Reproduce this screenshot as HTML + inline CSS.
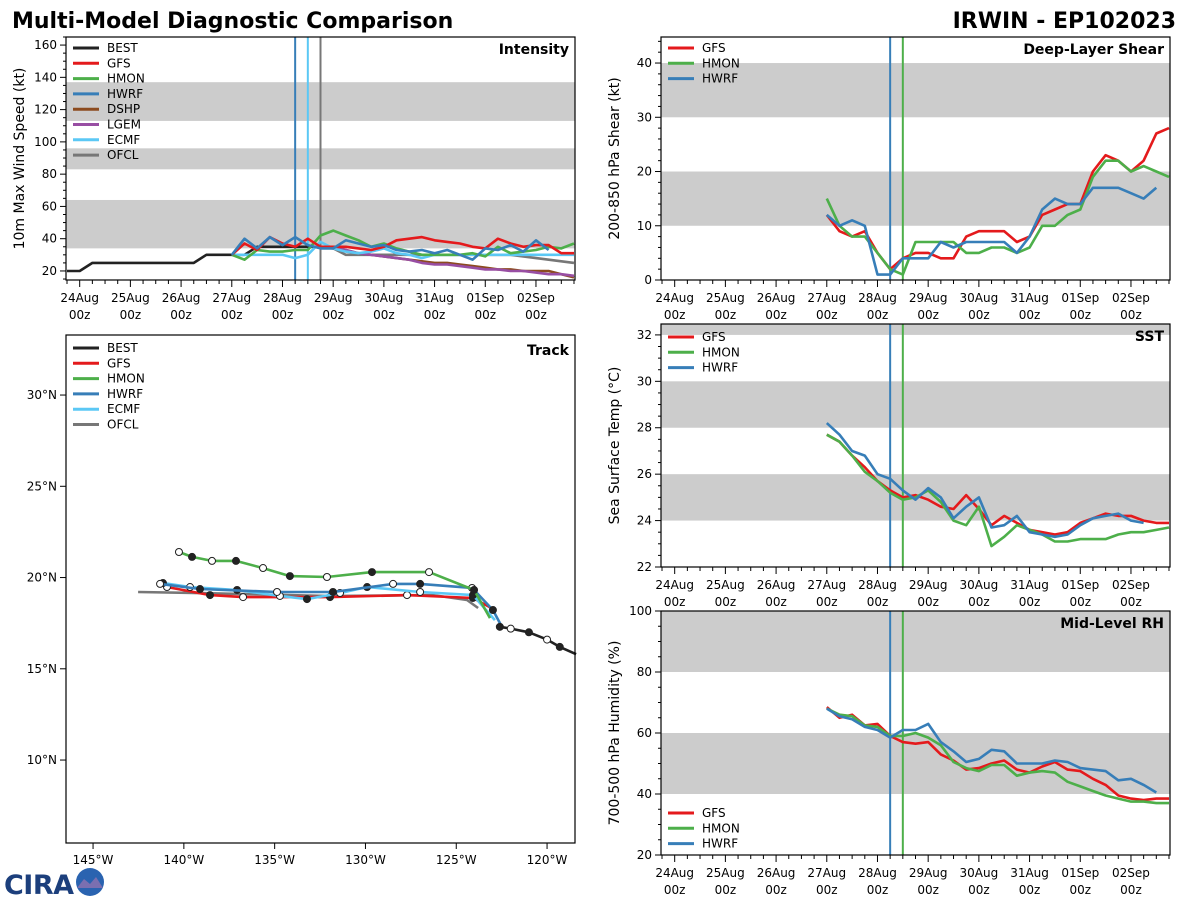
<!DOCTYPE html>
<html><head><meta charset="utf-8"><style>
html,body{margin:0;padding:0;background:#fff;width:1200px;height:900px;overflow:hidden;font-family:"Liberation Sans","DejaVu Sans",sans-serif}
svg text{font-family:"DejaVu Sans","Liberation Sans",sans-serif}
</style></head><body>
<svg id="chart" width="1200" height="900" xmlns="http://www.w3.org/2000/svg">
<text x="12" y="28" font-size="22" font-weight="bold">Multi-Model Diagnostic Comparison</text>
<text x="1176" y="28" font-size="22" font-weight="bold" text-anchor="end">IRWIN - EP102023</text>
<g>
<text x="4" y="894" font-size="27" font-weight="bold" fill="#1c3f7c" font-family="Liberation Sans,sans-serif" textLength="70">CIRA</text>
<circle cx="90" cy="882" r="14" fill="#2a63b0"/>
<path d="M77 888 L84 879 L90 884 L96 877 L103 888 Z" fill="#7a6fb0"/>
</g>
</svg>
<script>
const times = [72,78,84,90,96,102,108,114,120,126,132,138,144,150,156,162,168,174,180,186,192,198,204,210,216,222,228,234];
const dayLabels = ["24Aug","25Aug","26Aug","27Aug","28Aug","29Aug","30Aug","31Aug","01Sep","02Sep"];
// Intensity
const bestTimes = [-6,0,6,12,18,24,30,36,42,48,54,60,66,72,78,84,90,96,102,108,114];
const bestInt = [20,20,25,25,25,25,25,25,25,25,25,30,30,30,30,35,35,35,35,35,35];
const gfsInt = [30,37,33,41,37,35,40,35,35,35,34,33,35,39,40,41,39,38,37,35,34,40,37,35,36,36,31,31];
const hmonInt = [30,27,33,32,32,33,33,42,45,42,39,35,37,34,32,30,30,30,30,31,29,35,31,32,33,35,34,37];
const hwrfInt = [30,40,34,41,36,41,36,34,34,39,37,35,36,33,32,33,31,33,30,27,34,33,36,32,39,33];
const ecmfInt = [30,30,30,30,30,28,30,38,34,32,31,32,34,31,30,28,30,30,30,30,30,30,30,30,30,30,30,30];
const aidTimes = [114,120,126,132,138,144,150,156,162,168,174,180,186,192,198,204,210,216,222,228,234];
const dshpInt = [35,35,33,31,30,29,28,27,26,25,25,24,23,22,21,21,20,20,20,18,16];
const lgemInt = [35,35,33,31,30,29,28,27,25,24,24,23,22,21,21,20,20,19,18,18,17];
const ofclTimes = [114,120,126,138,150,162,174,186,198,204,216,234];
const ofclInt = [35,34,30,30,30,30,30,30,30,30,28,25];
// Shear
const gfsShr = [12,9,8,9,5,2,4,5,5,4,4,8,9,9,9,7,8,12,13,14,14,20,23,22,20,22,27,28];
const hmonShr = [15,10,8,8,5,2,1,7,7,7,7,5,5,6,6,5,6,10,10,12,13,19,22,22,20,21,20,19];
const hwrfShr = [12,10,11,10,1,1,4,4,4,7,6,7,7,7,7,5,8,13,15,14,14,17,17,17,16,15,17];
// SST
const gfsSst = [27.7,27.4,26.8,26.3,25.7,25.3,25.0,25.1,24.9,24.6,24.5,25.1,24.5,23.8,24.2,23.9,23.6,23.5,23.4,23.5,23.9,24.1,24.3,24.2,24.2,24.0,23.9,23.9];
const hmonSst = [27.7,27.4,26.8,26.1,25.7,25.2,24.9,25.0,25.3,24.8,24.0,23.8,24.6,22.9,23.3,23.8,23.6,23.4,23.1,23.1,23.2,23.2,23.2,23.4,23.5,23.5,23.6,23.7];
const hwrfSst = [28.2,27.7,27.0,26.8,26.0,25.8,25.3,24.9,25.4,25.0,24.1,24.6,25.0,23.7,23.8,24.2,23.5,23.4,23.3,23.4,23.8,24.1,24.2,24.3,24.0,23.9];
// RH
const gfsRh = [68.5,65,66,62.5,63,59,57,56.5,57,53,51,48,48.5,50,51,48,47,49,50.5,48,47.5,45,43,39.5,38.5,38,38.5,38.5];
const hmonRh = [68,66,65.5,62.5,62,59,59,60,58.5,56,50.5,48.5,47.5,49.5,49.5,46,47,47.5,47,44,42.5,41,39.5,38.5,37.5,37.5,37,37];
const hwrfRh = [68,65.5,64.5,62,61,58.5,61,61,63,57,54,50.5,51.5,54.5,54,50,50,50,51,50.5,48.5,48,47.5,44.5,45,43,40.5];
// Track
const bestLon = [-118.4,-119.3,-120.0,-121.0,-122.0,-122.6];
const bestLat = [15.8,16.2,16.6,17.0,17.2,17.3];
const gfsLon = [-122.87,-124.08,-127.71,-131.95,-136.74,-138.56,-140.93];
const gfsLat = [18.22,18.88,19.04,18.93,18.93,19.04,19.48];
const hmonLon = [-123.14,-124.02,-126.50,-129.64,-132.12,-134.16,-135.64,-137.13,-138.45,-139.55,-140.27];
const hmonLat = [17.78,19.32,20.30,20.30,20.03,20.08,20.52,20.91,20.91,21.13,21.40];
const hwrfLon = [-122.48,-122.98,-124.13,-126.99,-128.48,-131.79,-134.87,-139.11,-141.31];
const hwrfLat = [17.29,18.22,19.43,19.65,19.65,19.21,19.21,19.37,19.65];
const ecmfLon = [-122.87,-124.08,-126.99,-129.91,-131.40,-133.22,-134.71,-137.07,-139.66,-141.15];
const ecmfLat = [17.67,19.04,19.21,19.48,19.15,18.82,18.99,19.32,19.48,19.70];
const ofclLon = [-123.80,-124.41,-126.28,-131.95,-139.11,-142.52];
const ofclLat = [18.33,18.77,19.04,18.99,19.15,19.21];
const lonTicks = [-145,-140,-135,-130,-125,-120];
const latTicks = [10,15,20,25,30];

const C = {BEST:"#222222",GFS:"#e41a1c",HMON:"#4daf4a",HWRF:"#377eb8",DSHP:"#8c4b1f",LGEM:"#984ea3",ECMF:"#5bc8f5",OFCL:"#777777"};
const svg = document.getElementById('chart');
const NS = "http://www.w3.org/2000/svg";
function mk(tag, attrs, parent){const e=document.createElementNS(NS,tag);for(const k in attrs)e.setAttribute(k,attrs[k]);(parent||svg).appendChild(e);return e;}

function timePanel(name, x0, x1, y0, y1, vmin, vmax, bands, majors, minorStep, ylabel, title, vlines){
  const g = mk('g',{});
  
  
  const dayW = (x1-x0)/ (10.04);
  const xs = t => x0 + (t/24 + 0.27) * dayW;
  const ys = v => y1 - (v - vmin)/(vmax - vmin) * (y1 - y0);
  bands.forEach(b=>{
    const r = mk('rect',{x:x0,y:ys(Math.min(b[1],vmax)),width:x1-x0,height:ys(b[0])-ys(Math.min(b[1],vmax)),fill:"#cccccc"},g);
    
    
  });
  for(let i=0;i<=40;i++){const t=i*6-6; const x=xs(t); if(x<x0||x>x1)continue; const major=t%24==0;
    mk('line',{x1:x,x2:x,y1:y1,y2:y1+(major?7:4),stroke:"#000","stroke-width":1},g);}
  dayLabels.forEach((d,i)=>{const x=xs(i*24);
    const t1=mk('text',{x:x,y:y1+22,"font-size":12,"text-anchor":"middle"},g); t1.textContent=d;
     
    const t2=mk('text',{x:x,y:y1+39,"font-size":12,"text-anchor":"middle"},g); t2.textContent="00z";});
  for(let v=Math.ceil(vmin/minorStep)*minorStep; v<=vmax; v+=minorStep){const y=ys(v);
    const maj = majors.includes(+v.toFixed(3));
    mk('line',{x1:x0-(maj?6:3),x2:x0,y1:y,y2:y,stroke:"#000","stroke-width":1},g);}
  majors.forEach(v=>{const t=mk('text',{x:x0-9,y:ys(v)+4,"font-size":12,"text-anchor":"end"},g);t.textContent=v;
     });
  const yl = mk('text',{transform:`translate(${x0-42},${(y0+y1)/2}) rotate(-90)`,"font-size":14,"text-anchor":"middle"},g);
  yl.textContent = ylabel;
   
  const tt = mk('text',{x:x1-6,y:y0+17,"font-size":14,"font-weight":"bold","text-anchor":"end"},g);
  tt.textContent = title;
   
  vlines.forEach(v=>{const l=mk('line',{x1:xs(v[0]),x2:xs(v[0]),y1:y0,y2:y1,stroke:v[1],"stroke-width":2},g);
     });
  return {g,xs,ys,x0,x1,y0,y1};
}
function series(P, name, tArr, vArr, color){
  const n = Math.min(tArr.length, vArr.length);
  let d=""; for(let i=0;i<n;i++){const x=P.xs(tArr[i]); if(x>P.x1+1) break; d+=(i?"L":"M")+x.toFixed(1)+","+P.ys(vArr[i]).toFixed(1);}
  const p = mk('path',{d:d,fill:"none",stroke:color,"stroke-width":2.6,"stroke-linejoin":"round"},P.g);
  
  
}
function legend(P, entries, x, y){
  entries.forEach((e,i)=>{const yy=y+i*15.3;
    const l=mk('line',{x1:x,x2:x+26,y1:yy,y2:yy,stroke:C[e],"stroke-width":3},P.g);
     
    const t=mk('text',{x:x+34,y:yy+4,"font-size":12},P.g); t.textContent=e;});
}
function frame(P){const r=mk('rect',{x:P.x0,y:P.y0,width:P.x1-P.x0,height:P.y1-P.y0,fill:"none",stroke:"#000","stroke-width":1.2},P.g);
   }

const I = timePanel('intensity',66,575,37,280,14.4,165,[[34,64],[83,96],[113,137]],[20,40,60,80,100,120,140,160],5,"10m Max Wind Speed (kt)","Intensity",[[102,C.HWRF],[108,C.ECMF],[114,C.OFCL]]);
series(I,'best-line',bestTimes,bestInt,C.BEST);
series(I,'ofcl-line',ofclTimes,ofclInt,C.OFCL);
series(I,'dshp-line',aidTimes,dshpInt,C.DSHP);
series(I,'lgem-line',aidTimes,lgemInt,C.LGEM);
series(I,'ecmf-line',times,ecmfInt,C.ECMF);
series(I,'hmon-line',times,hmonInt,C.HMON);
series(I,'gfs-line',times,gfsInt,C.GFS);
series(I,'hwrf-line',times,hwrfInt,C.HWRF);
legend(I,["BEST","GFS","HMON","HWRF","DSHP","LGEM","ECMF","OFCL"],73,48);
frame(I);

const S = timePanel('shear',661,1170,37,280,0,44.8,[[10,20],[30,40]],[0,10,20,30,40],2,"200-850 hPa Shear (kt)","Deep-Layer Shear",[[102,C.HWRF],[108,C.HMON]]);
series(S,'gfs-shear',times,gfsShr,C.GFS);
series(S,'hmon-shear',times,hmonShr,C.HMON);
series(S,'hwrf-shear',times,hwrfShr,C.HWRF);
legend(S,["GFS","HMON","HWRF"],668,48); frame(S);

const T = timePanel('sst',661,1170,324,567,22,32.47,[[24,26],[28,30],[32,33]],[22,24,26,28,30,32],0.5,"Sea Surface Temp (°C)","SST",[[102,C.HWRF],[108,C.HMON]]);
series(T,'gfs-sst',times,gfsSst,C.GFS);
series(T,'hmon-sst',times,hmonSst,C.HMON);
series(T,'hwrf-sst',times,hwrfSst,C.HWRF);
legend(T,["GFS","HMON","HWRF"],668,337); frame(T);

const R = timePanel('rh',661,1170,611,855,20,100,[[40,60],[80,100]],[20,40,60,80,100],5,"700-500 hPa Humidity (%)","Mid-Level RH",[[102,C.HWRF],[108,C.HMON]]);
series(R,'gfs-rh',times,gfsRh,C.GFS);
series(R,'hmon-rh',times,hmonRh,C.HMON);
series(R,'hwrf-rh',times,hwrfRh,C.HWRF);
legend(R,["GFS","HMON","HWRF"],668,813); frame(R);

const tg = mk('g',{});


const TX0=66,TX1=575,TY0=335,TY1=843;
const lx = lon => TX0 + (lon + 146.49)*18.16;
const ly = lat => TY0 + (33.29 - lat)*18.25;
lonTicks.forEach(v=>{const x=lx(v); mk('line',{x1:x,x2:x,y1:TY1,y2:TY1+6,stroke:"#000"},tg);
  const t=mk('text',{x:x,y:TY1+21,"font-size":12,"text-anchor":"middle"},tg); t.textContent=Math.abs(v)+"°W";
   });
latTicks.forEach(v=>{const y=ly(v); mk('line',{x1:TX0-6,x2:TX0,y1:y,y2:y,stroke:"#000"},tg);
  const t=mk('text',{x:TX0-9,y:y+4,"font-size":12,"text-anchor":"end"},tg); t.textContent=v+"°N";
   });
const tt2=mk('text',{x:TX1-6,y:TY0+20,"font-size":14,"font-weight":"bold","text-anchor":"end"},tg); tt2.textContent="Track";
 
function track(name, lons, lats, color, markers){
  let d=""; lons.forEach((lo,i)=>{d+=(i?"L":"M")+lx(lo).toFixed(1)+","+ly(lats[i]).toFixed(1);});
  const p=mk('path',{d:d,fill:"none",stroke:color,"stroke-width":2.6,"stroke-linejoin":"round"},tg);
   
  if(markers){ lons.forEach((lo,i)=>{ if(i==0) return;
    const c=mk('circle',{cx:lx(lo),cy:ly(lats[i]),r:3.5,fill:(i%2?"#222":"#fff"),stroke:"#222","stroke-width":1},tg);
     });}
}
track('ofcl-track',ofclLon,ofclLat,C.OFCL,false);
track('gfs-track',gfsLon,gfsLat,C.GFS,true);
track('ecmf-track',ecmfLon,ecmfLat,C.ECMF,true);
track('hwrf-track',hwrfLon,hwrfLat,C.HWRF,true);
track('hmon-track',hmonLon,hmonLat,C.HMON,true);
track('best-track',bestLon,bestLat,C.BEST,true);
legend({g:tg},["BEST","GFS","HMON","HWRF","ECMF","OFCL"],73,348);
const tf=mk('rect',{x:TX0,y:TY0,width:TX1-TX0,height:TY1-TY0,fill:"none",stroke:"#000","stroke-width":1.2},tg);
 
</script>
</body></html>
